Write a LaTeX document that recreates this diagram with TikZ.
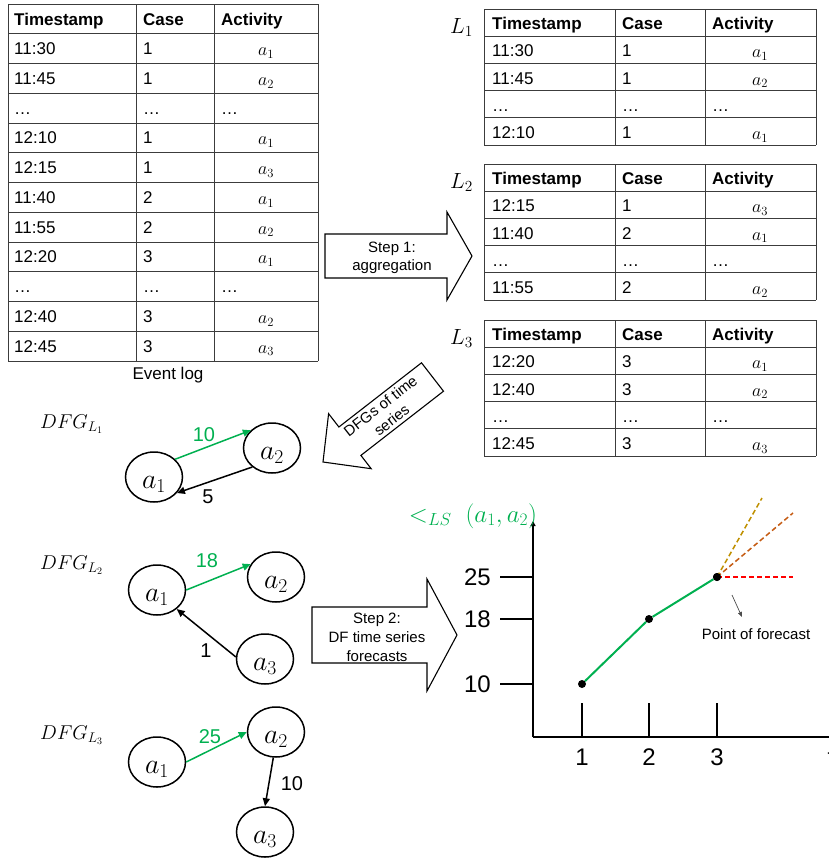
\documentclass[tikz,border=0pt]{standalone}
\usepackage{fix-cm}
\usepackage[no-math]{fontspec}
\setmainfont{Liberation Sans}
\usetikzlibrary{arrows.meta,shapes.geometric}

\definecolor{fcgreen}{RGB}{0,176,80}
\definecolor{fcred}{RGB}{255,0,0}
\definecolor{fcorange}{RGB}{197,90,17}
\definecolor{fcgold}{RGB}{191,144,0}
\definecolor{rulec}{RGB}{60,60,60}

\newcommand{\fsz}[2]{\fontsize{#1}{#2}\selectfont}

% one of the three sub-logs: name, top edge, rows (time/case/activity index, 0 = ellipsis)
\newcommand{\sublog}[3]{%
  \foreach \k in {0,...,5} \draw[grid] (484,{#2+27.2*\k}) -- (816,{#2+27.2*\k});
  \foreach \x in {484,615,705,816} \draw[grid] (\x,#2) -- (\x,{#2+136});
  \node[cellh] (#1-h1) at (492,{#2+20}) {Timestamp};
  \node[cellh] (#1-h2) at (622,{#2+20}) {Case};
  \node[cellh] (#1-h3) at (712,{#2+20}) {Activity};
  \foreach \tA/\tB/\tC [count=\i] in {#3} {
    \pgfmathsetmacro{\yb}{#2+27.2*(\i+0.5)+7}
    \node[cellt] (#1-\i-t) at (492,\yb) {\tA};
    \node[cellt] (#1-\i-c) at (622,\yb) {\tB};
    \ifnum\tC=0
      \node[cellt] (#1-\i-a) at (712,\yb) {…};
    \else
      \node[cellm] (#1-\i-a) at (760,{\yb+1}) {$a_{\tC}$};
    \fi
  }%
}

\begin{document}
\begin{tikzpicture}[x=1pt,y=-1pt,
  grid/.style={draw=rulec, line width=0.9pt},
  cellt/.style={inner sep=0pt, anchor=base west, font=\fsz{17}{20}},
  cellh/.style={inner sep=0pt, anchor=base west, font=\fsz{17}{20}\bfseries},
  cellm/.style={inner sep=0pt, anchor=base, font=\fsz{18}{22}},
  loglabel/.style={inner sep=0pt, anchor=base west, font=\fsz{22}{26}},
  dfglabel/.style={inner sep=0pt, anchor=base west, font=\fsz{20}{24}},
  blockarrow/.style={draw=black, fill=white, line width=1.1pt, line join=miter},
  steptext/.style={inner sep=0pt, align=center, font=\fsz{15}{18}},
  st/.style={ellipse, draw, line width=1.5pt, minimum width=57pt, minimum height=50pt,
    inner sep=0pt, font=\fsz{28}{30}, text height=22pt, text depth=0pt},
  dfe/.style={line width=1.5pt, -{Triangle[length=8pt,width=7pt]}},
  dfg/.style={dfe, draw=fcgreen},
  elab/.style={inner sep=0pt, font=\fsz{20}{24}},
  axis/.style={line width=2pt},
  num/.style={inner sep=0pt, font=\fsz{24}{28}},
  dot/.style={circle, fill=black, minimum size=8pt, inner sep=0pt},
  fc/.style={line width=1.5pt, dash pattern=on 5pt off 3pt}]

\useasboundingbox (0,0) rectangle (829,860);

% ---------- event log ----------
\foreach \k in {0,...,12} \draw[grid] (8,{4+29.75*\k}) -- (318,{4+29.75*\k});
\foreach \x in {8,136,214,318} \draw[grid] (\x,4) -- (\x,361);
\node[cellh] (ev-h1) at (14,25) {Timestamp};
\node[cellh] (ev-h2) at (143,25) {Case};
\node[cellh] (ev-h3) at (221,25) {Activity};
\foreach \tA/\tB/\tC [count=\i] in {11:30/1/1,11:45/1/2,…/…/0,12:10/1/1,12:15/1/3,11:40/2/1,11:55/2/2,12:20/3/1,…/…/0,12:40/3/2,12:45/3/3} {
  \pgfmathsetmacro{\yb}{4+29.75*(\i+0.5)+6}
  \node[cellt] (ev-\i-t) at (14,\yb) {\tA};
  \node[cellt] (ev-\i-c) at (143,\yb) {\tB};
  \ifnum\tC=0
    \node[cellt] (ev-\i-a) at (221,\yb) {…};
  \else
    \node[cellm] (ev-\i-a) at (266,{\yb+1}) {$a_{\tC}$};
  \fi
}
\node[inner sep=0pt, anchor=base, font=\fsz{17}{20}] (evlog) at (168,379) {Event log};

% ---------- sub-logs ----------
\node[loglabel] (lab1) at (450,33) {$L_1$};
\sublog{la}{9}{11:30/1/1,11:45/1/2,…/…/0,12:10/1/1}
\node[loglabel] (lab2) at (450,188) {$L_2$};
\sublog{lb}{164}{12:15/1/3,11:40/2/1,…/…/0,11:55/2/2}
\node[loglabel] (lab3) at (450,344) {$L_3$};
\sublog{lc}{320}{12:20/3/1,12:40/3/2,…/…/0,12:45/3/3}

% ---------- block arrows ----------
\draw[blockarrow] (325,234) -- (447,234) -- (447,212) -- (472,256) -- (447,300) -- (447,278) -- (325,278) -- cycle;
\node[steptext] (step1) at (392,258) {Step 1:\\aggregation};

\draw[blockarrow] (421.5,362.8) -- (443.5,391.2) -- (360.9,455.4) -- (371.2,468.7) -- (323,462) -- (328.6,413.7) -- (338.9,427.0) -- cycle;
\node[steptext, rotate=38] (dfgs) at (386,413) {DFGs of time\\series};

\draw[blockarrow] (312,607) -- (427,607) -- (427,579) -- (457,635) -- (427,691) -- (427,663) -- (312,663) -- cycle;
\node[steptext, font=\fsz{15}{19}] (step2) at (377,637) {Step 2:\\DF time series\\forecasts};

% ---------- DFG of L1 ----------
\node[dfglabel] (g1) at (40,428) {$DFG_{L_1}$};
\node[st] (d1a1) at (154,477) {$a_1$};
\node[st] (d1a2) at (272,448) {$a_2$};
\draw[dfg] (d1a1.40) -- (d1a2.140);
\draw[dfe] (d1a2.224) -- (d1a1.325);
\node[elab, text=fcgreen] (d1w1) at (204,435) {10};
\node[elab] (d1w2) at (208,497) {5};

% ---------- DFG of L2 ----------
\node[dfglabel] (g2) at (40,569) {$DFG_{L_2}$};
\node[st] (d2a1) at (157,590) {$a_1$};
\node[st] (d2a2) at (276,577) {$a_2$};
\node[st] (d2a3) at (265,659) {$a_3$};
\draw[dfg] (d2a1.0) -- (d2a2.153);
\draw[dfe] (d2a3.176) -- (d2a1.316);
\node[elab, text=fcgreen] (d2w1) at (207,561) {18};
\node[elab] (d2w2) at (206,651) {1};

% ---------- DFG of L3 ----------
\node[dfglabel] (g3) at (40,739) {$DFG_{L_3}$};
\node[st] (d3a1) at (157,762) {$a_1$};
\node[st] (d3a2) at (276,732) {$a_2$};
\node[st] (d3a3) at (265,832) {$a_3$};
\draw[dfg] (d3a1.0) -- (d3a2.180);
\draw[dfe] (d3a2.264) -- (d3a3.90);
\node[elab, text=fcgreen] (d3w1) at (210,737) {25};
\node[elab] (d3w2) at (292,784) {10};

% ---------- forecast chart ----------
\coordinate (O) at (533,737);
\coordinate (ytop) at (533,521);
\coordinate (xend) at (840,737);
\draw[axis, -{Triangle[length=5pt,width=5pt]}] (O) -- (ytop);
\draw[axis] (O) -- (xend);
\node[inner sep=0pt, anchor=base, text=fcgreen, font=\fsz{25}{30}] (title) at (473,522) {$<_{LS}\ (a_1, a_2)$};

\foreach \v/\y in {25/577,18/619,10/684} {
  \draw[axis] (500,\y) -- (533,\y);
  \node[num, anchor=east] (ty\v) at (491,\y) {\v};
}
\foreach \t/\x in {1/582,2/649,3/717} {
  \draw[axis] (\x,703) -- (\x,737);
  \node[num, anchor=base] (tx\t) at (\x,765) {\t};
}
\node[num, anchor=base west] (tx4) at (827.5,765) {t};

\node[dot] (p1) at (582,684) {};
\node[dot] (p2) at (649,619) {};
\node[dot] (p3) at (717,577) {};
\draw[line width=2pt, draw=fcgreen] (p1) -- (p2) -- (p3);

\coordinate (fred) at (793,577);
\coordinate (forange) at (793,513);
\coordinate (fgold) at (762,498);
\draw[fc, draw=fcred] (p3.center) -- (fred);
\draw[fc, draw=fcorange] (p3.center) -- (forange);
\draw[fc, draw=fcgold] (p3.center) -- (fgold);
\node[dot] (p3top) at (717,577) {};

\coordinate (pofs) at (732,595);
\coordinate (pofe) at (742,617);
\draw[line width=0.7pt, draw=black!70, -{Triangle[length=5pt,width=4pt]}] (pofs) -- (pofe);
\node[inner sep=0pt, anchor=base, font=\fsz{15}{18}] (pof) at (756,639) {Point of forecast};

\end{tikzpicture}
\end{document}
